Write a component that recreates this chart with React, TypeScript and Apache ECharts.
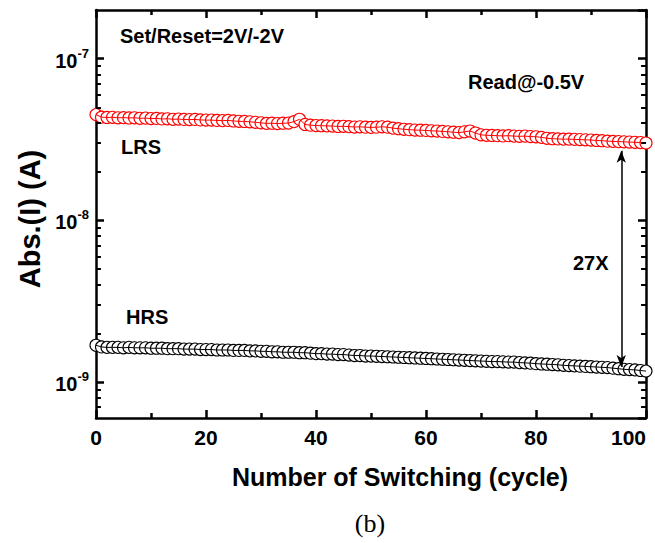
import React, { useEffect, useRef } from "react";
import * as echarts from "echarts";

// LRS current (A), one value per cycle 0..100
const lrsValues = [
  4.51e-8, 4.35e-8, 4.33e-8, 4.34e-8, 4.31e-8, 4.32e-8, 4.30e-8, 4.31e-8, 4.28e-8, 4.29e-8,
  4.26e-8, 4.27e-8, 4.24e-8, 4.25e-8, 4.22e-8, 4.23e-8, 4.21e-8, 4.20e-8, 4.21e-8, 4.18e-8,
  4.17e-8, 4.17e-8, 4.15e-8, 4.14e-8, 4.15e-8, 4.12e-8, 4.10e-8, 4.09e-8, 4.07e-8, 4.04e-8,
  4.01e-8, 3.98e-8, 3.99e-8, 3.97e-8, 3.99e-8, 4.00e-8, 4.08e-8, 4.22e-8, 3.92e-8, 3.88e-8,
  3.86e-8, 3.85e-8, 3.84e-8, 3.83e-8, 3.81e-8, 3.82e-8, 3.80e-8, 3.78e-8, 3.79e-8, 3.77e-8,
  3.76e-8, 3.77e-8, 3.79e-8, 3.77e-8, 3.72e-8, 3.69e-8, 3.66e-8, 3.64e-8, 3.62e-8, 3.61e-8,
  3.60e-8, 3.58e-8, 3.57e-8, 3.55e-8, 3.53e-8, 3.51e-8, 3.49e-8, 3.53e-8, 3.57e-8, 3.47e-8,
  3.38e-8, 3.36e-8, 3.35e-8, 3.34e-8, 3.33e-8, 3.34e-8, 3.32e-8, 3.31e-8, 3.32e-8, 3.30e-8,
  3.29e-8, 3.26e-8, 3.22e-8, 3.20e-8, 3.19e-8, 3.18e-8, 3.18e-8, 3.17e-8, 3.16e-8, 3.15e-8,
  3.14e-8, 3.12e-8, 3.11e-8, 3.09e-8, 3.08e-8, 3.07e-8, 3.06e-8, 3.05e-8, 3.04e-8, 3.03e-8,
  3.01e-8,
];

// HRS current (A), one value per cycle 0..100
const hrsValues = [
  1.69e-9, 1.65e-9, 1.64e-9, 1.64e-9, 1.64e-9, 1.63e-9, 1.64e-9, 1.63e-9, 1.63e-9, 1.63e-9,
  1.62e-9, 1.62e-9, 1.62e-9, 1.61e-9, 1.61e-9, 1.61e-9, 1.60e-9, 1.60e-9, 1.60e-9, 1.59e-9,
  1.59e-9, 1.59e-9, 1.58e-9, 1.58e-9, 1.58e-9, 1.57e-9, 1.57e-9, 1.57e-9, 1.56e-9, 1.56e-9,
  1.55e-9, 1.55e-9, 1.54e-9, 1.54e-9, 1.53e-9, 1.53e-9, 1.53e-9, 1.52e-9, 1.52e-9, 1.51e-9,
  1.50e-9, 1.50e-9, 1.49e-9, 1.49e-9, 1.48e-9, 1.48e-9, 1.47e-9, 1.46e-9, 1.46e-9, 1.45e-9,
  1.45e-9, 1.445e-9, 1.44e-9, 1.435e-9, 1.43e-9, 1.425e-9, 1.42e-9, 1.415e-9, 1.41e-9, 1.405e-9,
  1.40e-9, 1.395e-9, 1.39e-9, 1.385e-9, 1.38e-9, 1.375e-9, 1.37e-9, 1.365e-9, 1.36e-9, 1.355e-9,
  1.35e-9, 1.345e-9, 1.34e-9, 1.34e-9, 1.335e-9, 1.33e-9, 1.33e-9, 1.32e-9, 1.315e-9, 1.31e-9,
  1.30e-9, 1.295e-9, 1.29e-9, 1.285e-9, 1.28e-9, 1.27e-9, 1.265e-9, 1.26e-9, 1.255e-9, 1.25e-9,
  1.245e-9, 1.24e-9, 1.235e-9, 1.23e-9, 1.22e-9, 1.21e-9, 1.20e-9, 1.195e-9, 1.19e-9, 1.18e-9,
  1.17e-9,
];

const xMin = 0;
const xMax = 100;
const xInterval = 20;
const yMin = 6e-10;
const yMax = 2e-7;
const yMinorTicks = [
  7e-10, 8e-10, 9e-10,
  2e-9, 3e-9, 4e-9, 5e-9, 6e-9, 7e-9, 8e-9, 9e-9,
  2e-8, 3e-8, 4e-8, 5e-8, 6e-8, 7e-8, 8e-8, 9e-8,
];
// ratio arrow between the two states
const arrowCycle = 95.5;
const arrowTop = 2.7e-8;
const arrowBottom = 1.24e-9;

const FONT = '"Liberation Sans", Arial, sans-serif';

export default function App() {
  const ref = useRef<HTMLDivElement>(null);
  useEffect(() => {
    if (!ref.current) return;
    const chart = echarts.init(ref.current, null, { renderer: "svg" });
    const lrsData = lrsValues.map((v, i) => [i, v]);
    const hrsData = hrsValues.map((v, i) => [i, v]);

    const axisLine = { show: true, onZero: false, lineStyle: { color: "#000", width: 2.5 } };
    const majorTick = { show: true, inside: true, length: 8, lineStyle: { color: "#000", width: 2.5 } };
    const xMinor = { show: true, splitNumber: 2, length: 5, lineStyle: { color: "#000", width: 2.5 } };

    const logFormatter = (v: number) => {
      const l = Math.log10(v);
      const e = Math.round(l);
      if (Math.abs(l - e) > 1e-6) return "";
      return `{b|10}{s|${e}}`;
    };

    // minor log ticks (2..9 x 10^n) on left and right frame sides, as short marks in data space
    const minorLen = 0.9; // in cycles along x
    const minorTickLines: any[] = [];
    yMinorTicks.forEach((v) => {
      minorTickLines.push([{ coord: [xMin, v] }, { coord: [xMin + minorLen, v] }]);
      minorTickLines.push([{ coord: [xMax - minorLen, v] }, { coord: [xMax, v] }]);
    });

    const symbolSeries = (name: string, data: number[][], color: string) => ({
      name,
      type: "line",
      data,
      symbol: "circle",
      symbolSize: 12,
      showAllSymbol: true,
      itemStyle: { color: "#fff", borderColor: color, borderWidth: 1.1 },
      lineStyle: { color, width: 1 },
      z: 2,
    });
    const overlaySeries = (name: string, data: number[][], color: string, extra: any = {}) => ({
      name: name + "-line",
      type: "line",
      data,
      symbol: "none",
      lineStyle: { color, width: 1 },
      z: 3,
      silent: true,
      ...extra,
    });

    const option: any = {
      animation: false,
      backgroundColor: "#fff",
      grid: { left: 96, right: 9, top: 10, bottom: 125, containLabel: false },
      xAxis: [
        {
          type: "value",
          min: xMin,
          max: xMax,
          interval: xInterval,
          position: "bottom",
          axisLine,
          axisTick: majorTick,
          minorTick: xMinor,
          splitLine: { show: false },
          minorSplitLine: { show: false },
          axisLabel: {
            color: "#000",
            fontSize: 21,
            fontWeight: "bold",
            fontFamily: FONT,
            margin: 9,
            alignMaxLabel: "right",
          },
          name: "Number of Switching (cycle)",
          nameLocation: "middle",
          nameGap: 46,
          nameTextStyle: {
            color: "#000",
            fontSize: 25,
            fontWeight: "bold",
            fontFamily: FONT,
            padding: [0, 0, 0, 58],
          },
        },
        {
          type: "value",
          min: xMin,
          max: xMax,
          interval: xInterval,
          position: "top",
          axisLine,
          axisTick: majorTick,
          minorTick: xMinor,
          splitLine: { show: false },
          minorSplitLine: { show: false },
          axisLabel: { show: false },
        },
      ],
      yAxis: [
        {
          type: "log",
          logBase: 10,
          min: yMin,
          max: yMax,
          position: "left",
          axisLine,
          axisTick: majorTick,
          splitLine: { show: false },
          axisLabel: {
            formatter: logFormatter,
            margin: 7,
            showMinLabel: false,
            showMaxLabel: false,
            rich: {
              b: { fontSize: 20, fontWeight: "bold", fontFamily: FONT, color: "#000", lineHeight: 24, verticalAlign: "bottom" },
              s: { fontSize: 13, fontWeight: "bold", fontFamily: FONT, color: "#000", lineHeight: 24, verticalAlign: "top" },
            },
          },
          name: "Abs.(I) (A)",
          nameLocation: "middle",
          nameRotate: 90,
          nameGap: 50,
          nameTextStyle: {
            color: "#000",
            fontSize: 29,
            fontWeight: "bold",
            fontFamily: FONT,
            padding: [0, 10, 0, 0],
          },
        },
        {
          type: "log",
          logBase: 10,
          min: yMin,
          max: yMax,
          position: "right",
          axisLine,
          axisTick: majorTick,
          splitLine: { show: false },
          axisLabel: { show: false },
        },
      ],
      series: [
        symbolSeries("LRS", lrsData, "#ff0000"),
        symbolSeries("HRS", hrsData, "#000000"),
        overlaySeries("LRS", lrsData, "#ff0000", {
          markLine: {
            silent: true,
            symbol: ["none", "none"],
            label: { show: false },
            lineStyle: { color: "#000", width: 2, type: "solid" },
            data: minorTickLines,
          },
        }),
        overlaySeries("HRS", hrsData, "#000000", {
          markLine: {
            silent: true,
            symbol: ["arrow", "arrow"],
            symbolSize: [7, 12],
            label: { show: false },
            lineStyle: { color: "#000", width: 1.5, type: "solid" },
            data: [[{ coord: [arrowCycle, arrowTop] }, { coord: [arrowCycle, arrowBottom] }]],
          },
        }),
      ],
      graphic: [
        { type: "text", x: 120, y: 36, style: { text: "Set/Reset=2V/-2V", font: `bold 20px ${FONT}`, fill: "#000", verticalAlign: "middle", textVerticalAlign: "middle" } },
        { type: "text", x: 468, y: 82, style: { text: "Read@-0.5V", font: `bold 20px ${FONT}`, fill: "#000", verticalAlign: "middle", textVerticalAlign: "middle" } },
        { type: "text", x: 121, y: 147, style: { text: "LRS", font: `bold 20px ${FONT}`, fill: "#000", verticalAlign: "middle", textVerticalAlign: "middle" } },
        { type: "text", x: 126, y: 317, style: { text: "HRS", font: `bold 20px ${FONT}`, fill: "#000", verticalAlign: "middle", textVerticalAlign: "middle" } },
        { type: "text", x: 573, y: 263, style: { text: "27X", font: `bold 20px ${FONT}`, fill: "#000", verticalAlign: "middle", textVerticalAlign: "middle" } },
        { type: "text", x: 370, y: 523, style: { text: "(b)", font: `26px "Liberation Serif", "Times New Roman", serif`, fill: "#000", align: "center", textAlign: "center", verticalAlign: "middle", textVerticalAlign: "middle" } },
      ],
    };
    chart.setOption(option);
    return () => chart.dispose();
  }, []);
  return (
    <div
      ref={ref}
      style={{ position: "fixed", left: 0, top: 0, width: 655, height: 543, background: "#fff" }}
    />
  );
}
